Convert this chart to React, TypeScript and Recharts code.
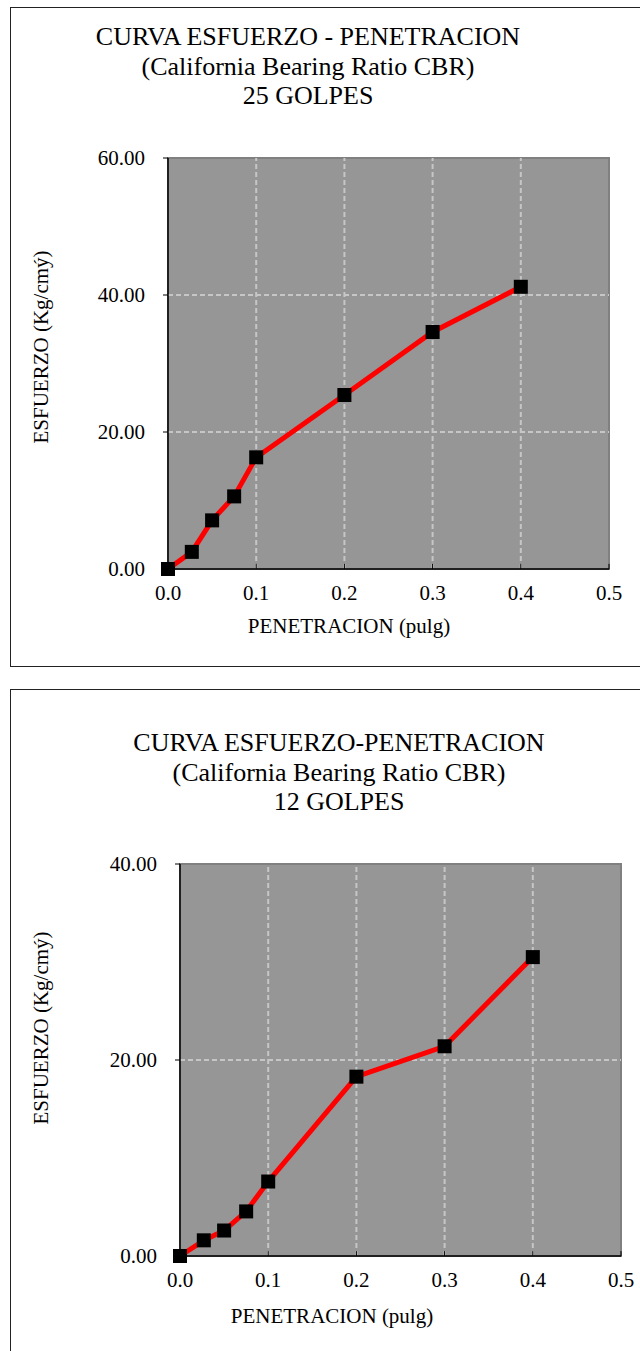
import React from "react";
import {
  LineChart,
  Line,
  XAxis,
  YAxis,
  ReferenceArea,
  ReferenceLine,
} from "recharts";

// penetration readings (pulg), shared by both tests
const penetracion = [0, 0.027, 0.05, 0.075, 0.1, 0.2, 0.3, 0.4];
// stress readings (Kg/cm2)
const esfuerzo25 = [0, 2.5, 7.1, 10.6, 16.3, 25.4, 34.6, 41.2];
const esfuerzo12 = [0, 1.6, 2.6, 4.55, 7.6, 18.3, 21.4, 30.5];

const xTicks = [0, 0.1, 0.2, 0.3, 0.4, 0.5];
const gridX = [0.1, 0.2, 0.3, 0.4];
const yTicks25 = [0, 20, 40, 60];
const gridY25 = [20, 40];
const yTicks12 = [0, 20, 40];
const gridY12 = [20];

const titles25 = [
  "CURVA ESFUERZO - PENETRACION",
  "(California Bearing Ratio CBR)",
  "25 GOLPES",
];
const titles12 = [
  "CURVA ESFUERZO-PENETRACION",
  "(California Bearing Ratio CBR)",
  "12 GOLPES",
];

const xLabel = "PENETRACION (pulg)";
const yLabel = "ESFUERZO (Kg/cmý)";

const FONT = "'Liberation Serif', 'Times New Roman', serif";

const SquareDot = (props: any) => {
  const { cx, cy, index } = props;
  if (cx == null || cy == null) return <g key={index} />;
  return <rect key={index} x={cx - 7} y={cy - 7} width={14} height={14} fill="#000" />;
};

interface CbrProps {
  top: number;
  height: number;
  values: number[];
  yMax: number;
  yTicks: number[];
  gridY: number[];
  margin: { top: number; right: number; bottom: number; left: number };
  titles: string[];
  titleCx: number;
  titleTop: number;
  xLabelCx: number;
  xLabelCy: number;
  yLabelCy: number;
}

function CbrChart(p: CbrProps) {
  const rows = penetracion.map((x, i) => ({ pen: x, esf: p.values[i] }));
  const tickStyle = { fill: "#000", fontSize: 21, fontFamily: FONT };
  // short inner tick marks on the x axis
  const tickLen = (p.yMax * 5) / 400;
  return (
    <div style={{ position: "absolute", left: 0, top: p.top, width: 640, height: p.height }}>
      {/* title block */}
      <div
        style={{
          position: "absolute",
          left: p.titleCx - 320,
          top: p.titleTop,
          width: 640,
          textAlign: "center",
          fontFamily: FONT,
          fontSize: 26,
          lineHeight: "29.5px",
          color: "#000",
        }}
      >
        {p.titles.map((t) => (
          <div key={t}>{t}</div>
        ))}
      </div>

      <div style={{ position: "absolute", left: 0, top: 0 }}>
        <LineChart width={640} height={p.height} data={rows} margin={p.margin}>
          <XAxis
            dataKey="pen"
            type="number"
            domain={[0, 0.5]}
            ticks={xTicks}
            interval={0}
            tickFormatter={(v: number) => v.toFixed(1)}
            tick={tickStyle}
            tickLine={false}
            tickSize={0}
            tickMargin={16}
            height={30}
            axisLine={{ stroke: "#000", strokeWidth: 1.5 }}
          />
          <YAxis
            type="number"
            domain={[0, p.yMax]}
            ticks={p.yTicks}
            interval={0}
            tickFormatter={(v: number) => v.toFixed(2)}
            tick={tickStyle}
            tickSize={5}
            tickMargin={18}
            width={60}
            tickLine={{ stroke: "#000", strokeWidth: 1 }}
            axisLine={{ stroke: "#000", strokeWidth: 1.5 }}
          />
          {/* plot background */}
          <ReferenceArea
            x1={0}
            x2={0.5}
            y1={0}
            y2={p.yMax}
            fill="#969696"
            fillOpacity={1}
            stroke="#808080"
            strokeWidth={2}
          />
          {gridX.map((g) => (
            <ReferenceLine key={"x" + g} x={g} stroke="#c6c6c6" strokeWidth={2} strokeDasharray="5 3" />
          ))}
          {p.gridY.map((g) => (
            <ReferenceLine key={"y" + g} y={g} stroke="#c6c6c6" strokeWidth={2} strokeDasharray="5 3" />
          ))}
          {xTicks.map((g) => (
            <ReferenceLine
              key={"t" + g}
              segment={[
                { x: g, y: 0 },
                { x: g, y: tickLen },
              ]}
              stroke="#000"
              strokeWidth={1}
            />
          ))}
          <Line
            type="linear"
            dataKey="esf"
            stroke="#ff0000"
            strokeWidth={5}
            dot={SquareDot}
            activeDot={false}
            isAnimationActive={false}
          />
        </LineChart>
      </div>

      {/* axis titles */}
      <div
        style={{
          position: "absolute",
          left: p.xLabelCx - 160,
          top: p.xLabelCy - 13,
          width: 320,
          height: 26,
          lineHeight: "26px",
          textAlign: "center",
          fontFamily: FONT,
          fontSize: 21,
          color: "#000",
        }}
      >
        {xLabel}
      </div>
      <div
        style={{
          position: "absolute",
          left: 41 - 160,
          top: p.yLabelCy - 13,
          width: 320,
          height: 26,
          lineHeight: "26px",
          textAlign: "center",
          fontFamily: FONT,
          fontSize: 21,
          color: "#000",
          transform: "rotate(-90deg)",
        }}
      >
        {yLabel}
      </div>
    </div>
  );
}

export default function App() {
  return (
    <div
      style={{
        position: "absolute",
        left: 0,
        top: 0,
        width: 640,
        height: 1351,
        overflow: "hidden",
        background: "#fff",
      }}
    >
      {/* outer frames */}
      <div
        style={{
          position: "absolute",
          left: 10,
          top: 7,
          width: 660,
          height: 658,
          border: "1.5px solid #222",
        }}
      />
      <div
        style={{
          position: "absolute",
          left: 10,
          top: 689,
          width: 660,
          height: 700,
          border: "1.5px solid #222",
        }}
      />

      <CbrChart
        top={0}
        height={665}
        values={esfuerzo25}
        yMax={60}
        yTicks={yTicks25}
        gridY={gridY25}
        margin={{ top: 158, right: 31, bottom: 66, left: 108 }}
        titles={titles25}
        titleCx={308}
        titleTop={22}
        xLabelCx={349}
        xLabelCy={626}
        yLabelCy={347}
      />
      <CbrChart
        top={690}
        height={661}
        values={esfuerzo12}
        yMax={40}
        yTicks={yTicks12}
        gridY={gridY12}
        margin={{ top: 174, right: 19, bottom: 65, left: 120 }}
        titles={titles12}
        titleCx={339}
        titleTop={38}
        xLabelCx={332}
        xLabelCy={626}
        yLabelCy={338}
      />
    </div>
  );
}
